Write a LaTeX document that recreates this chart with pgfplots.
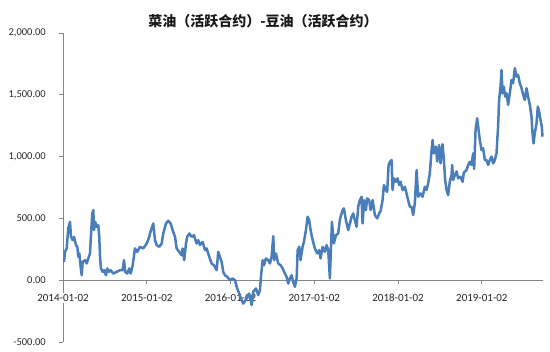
\documentclass[border=0pt]{standalone}
\usepackage{pgfplots}
\pgfplotsset{compat=1.18}
\usepackage{fontspec}
\setmainfont{Carlito}
\newfontfamily\cjk{Noto Sans CJK SC}
\definecolor{lineblue}{HTML}{4A7EBB}
\definecolor{axgray}{HTML}{868686}
\begin{document}
\begin{tikzpicture}
\path[use as bounding box] (0,0) rectangle (550pt,352pt);
\begin{axis}[
  at={(63pt,10pt)}, anchor=south west,
  scale only axis, width=480pt, height=309pt,
  xmin=0, xmax=5.73, ymin=-500, ymax=2000,
  axis y line=left, axis x line=middle,
  axis line style={-, axgray, line width=0.8pt},
  hide obscured x ticks=false, hide obscured y ticks=false,
  tick align=outside, major tick length=4pt,
  tick style={axgray, line width=0.8pt},
  xtick={0,1,2,3,4,5},
  xticklabels={2014-01-02,2015-01-02,2016-01-02,2017-01-02,2018-01-02,2019-01-02},
  ytick={-500,0,500,1000,1500,2000},
  /pgf/number format/assume math mode=true,
  yticklabel style={/pgf/number format/fixed, /pgf/number format/precision=2,
    /pgf/number format/fixed zerofill, /pgf/number format/1000 sep={,},
    font=\fontsize{10.5}{12}\selectfont, text=black!85, inner sep=0pt, anchor=east, xshift=-13pt},
  xticklabel style={font=\fontsize{11}{12}\selectfont, text=black!85, inner sep=1pt, fill=white, anchor=north, yshift=-9pt},
  clip=false,
]
\addplot[lineblue, line width=2.5pt, line join=round] table[x=t, y=v] {
t v
0.012 148
0.024 229
0.044 259
0.063 421
0.084 472
0.095 351
0.116 324
0.131 351
0.155 284
0.171 270
0.183 189
0.195 216
0.211 108
0.223 40
0.235 148
0.263 162
0.283 135
0.302 176
0.322 216
0.342 459
0.350 540
0.362 567
0.370 405
0.385 472
0.402 432
0.421 445
0.433 351
0.442 189
0.453 95
0.474 67
0.493 81
0.513 40
0.529 95
0.549 67
0.569 81
0.600 54
0.641 67
0.680 81
0.712 81
0.728 162
0.743 67
0.767 54
0.791 95
0.808 54
0.832 121
0.859 257
0.887 229
0.919 270
0.958 257
0.999 297
1.030 351
1.038 378
1.078 459
1.098 324
1.118 284
1.149 270
1.178 297
1.197 378
1.229 459
1.257 481
1.285 459
1.309 405
1.337 351
1.357 257
1.388 229
1.416 202
1.428 257
1.447 162
1.468 297
1.483 351
1.507 378
1.536 351
1.563 364
1.595 297
1.615 324
1.635 284
1.667 310
1.695 243
1.715 257
1.746 189
1.774 135
1.802 121
1.834 81
1.853 229
1.873 189
1.894 148
1.913 67
1.933 40
1.961 27
1.993 0
2.025 14
2.052 0
2.080 -67
2.104 -108
2.132 -162
2.152 -189
2.192 -148
2.223 -108
2.252 -202
2.271 -94
2.303 -67
2.331 -121
2.351 -81
2.363 27
2.383 162
2.399 121
2.422 176
2.450 162
2.470 135
2.490 189
2.510 356
2.521 162
2.542 216
2.569 135
2.598 121
2.622 95
2.649 54
2.669 27
2.689 -27
2.709 14
2.729 40
2.748 -14
2.768 -54
2.789 14
2.801 243
2.820 270
2.836 162
2.860 270
2.876 310
2.900 405
2.920 513
2.939 486
2.956 405
2.980 324
3.007 257
3.035 216
3.058 243
3.075 176
3.099 270
3.126 229
3.147 284
3.166 243
3.186 14
3.198 243
3.210 472
3.234 297
3.258 364
3.285 378
3.305 486
3.314 513
3.338 567
3.353 581
3.377 486
3.405 405
3.425 459
3.445 513
3.464 540
3.484 486
3.505 432
3.524 594
3.544 648
3.564 675
3.576 459
3.595 648
3.616 567
3.631 662
3.655 648
3.672 567
3.696 648
3.723 527
3.751 500
3.774 540
3.791 560
3.815 648
3.831 770
3.854 729
3.870 715
3.887 932
3.902 958
3.922 972
3.934 729
3.950 824
3.974 796
3.994 824
4.013 770
4.030 796
4.054 729
4.081 756
4.101 702
4.120 648
4.141 594
4.161 594
4.180 527
4.200 621
4.221 891
4.240 675
4.268 702
4.292 675
4.320 756
4.340 729
4.359 783
4.379 864
4.400 1053
4.412 1134
4.427 1026
4.451 1080
4.467 960
4.490 1094
4.507 945
4.531 1100
4.547 972
4.562 810
4.579 729
4.598 688
4.618 800
4.638 850
4.646 932
4.657 810
4.678 851
4.698 880
4.717 824
4.746 837
4.770 796
4.785 870
4.817 891
4.836 930
4.857 958
4.877 932
4.896 1026
4.908 900
4.925 1215
4.944 1310
4.961 1215
4.976 1134
4.996 1053
5.015 1067
5.036 972
5.056 972
5.075 932
5.095 972
5.116 999
5.135 945
5.155 972
5.175 1026
5.194 1242
5.206 1458
5.223 1566
5.235 1701
5.247 1512
5.263 1566
5.278 1485
5.295 1512
5.314 1418
5.334 1512
5.354 1620
5.373 1593
5.394 1715
5.414 1647
5.433 1661
5.453 1593
5.474 1553
5.493 1499
5.513 1458
5.533 1553
5.552 1485
5.573 1418
5.593 1323
5.605 1188
5.617 1107
5.632 1188
5.653 1269
5.668 1404
5.684 1364
5.700 1296
5.716 1242
5.724 1161
};
\end{axis}
\node[font=\cjk\bfseries\fontsize{14}{16}\selectfont, text=black!90] at (263pt,331pt) {菜油（活跃合约）-豆油（活跃合约）};
\end{tikzpicture}
\end{document}
